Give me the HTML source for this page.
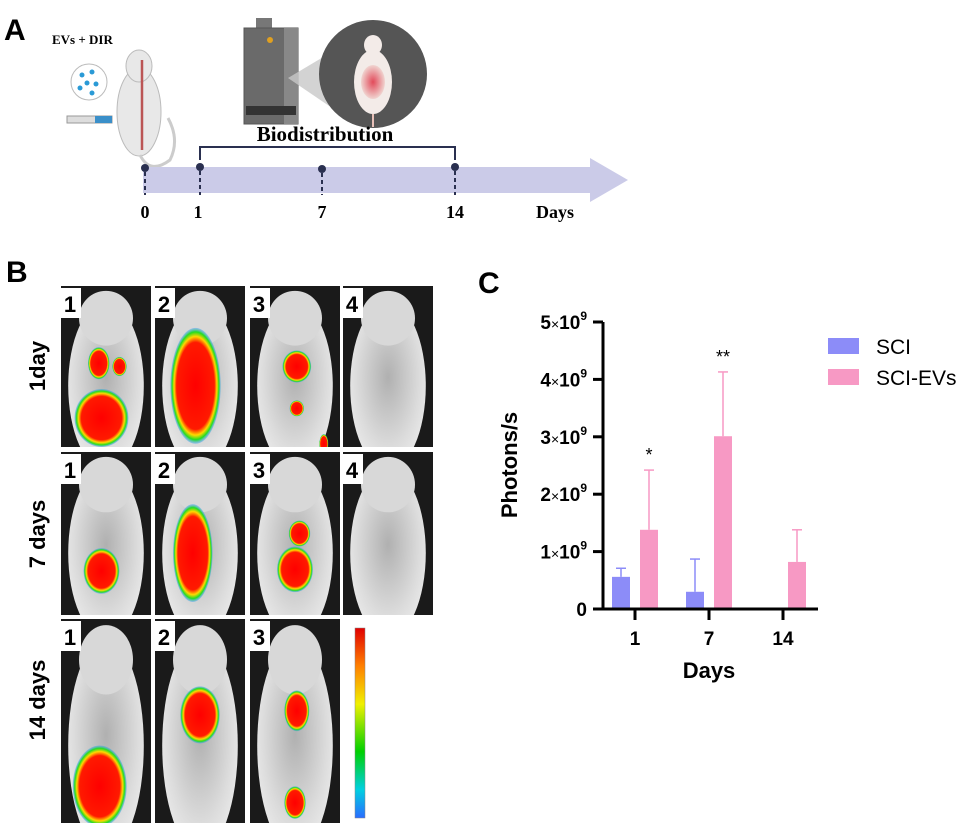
<!DOCTYPE html>
<html><head><meta charset="utf-8"><style>
body{margin:0;background:#fff;width:969px;height:823px;overflow:hidden;font-family:"Liberation Sans",sans-serif}
svg{display:block}
</style></head><body>
<svg width="969" height="823" viewBox="0 0 969 823">
<defs>
<radialGradient id="body" cx="50%" cy="45%" r="60%"><stop offset="0" stop-color="#b0b0b0"/><stop offset="0.7" stop-color="#dcdcdc"/><stop offset="1" stop-color="#ececec"/></radialGradient>
<radialGradient id="hot" cx="50%" cy="50%" r="50%"><stop offset="0" stop-color="#ff0000"/><stop offset="0.75" stop-color="#ff1a00"/><stop offset="0.85" stop-color="#ffd800"/><stop offset="0.93" stop-color="#22dd22"/><stop offset="1" stop-color="#3399ff" stop-opacity="0.4"/></radialGradient>
<radialGradient id="glow" cx="50%" cy="50%" r="50%"><stop offset="0" stop-color="#e24a5a"/><stop offset="1" stop-color="#f0d4d0"/></radialGradient>
<linearGradient id="cbar" x1="0" y1="1" x2="0" y2="0"><stop offset="0" stop-color="#2a6cff"/><stop offset="0.15" stop-color="#00d0e0"/><stop offset="0.35" stop-color="#00d000"/><stop offset="0.6" stop-color="#f0f000"/><stop offset="0.8" stop-color="#ff8000"/><stop offset="1" stop-color="#e00000"/></linearGradient>
</defs>

<!-- Panel A -->
<g>
<text x="4" y="40" font-size="30" font-weight="bold">A</text>
<text x="52" y="44" font-family="Liberation Serif" font-weight="bold" font-size="13">EVs + DIR</text>
<circle cx="89" cy="82" r="18" fill="#fff" stroke="#bbb"/>
<g fill="#2a9ad6"><circle cx="82" cy="75" r="2.5"/><circle cx="92" cy="72" r="2.5"/><circle cx="87" cy="83" r="2.5"/><circle cx="96" cy="84" r="2.5"/><circle cx="80" cy="88" r="2.5"/><circle cx="92" cy="93" r="2.5"/></g>
<rect x="67" y="116" width="45" height="7" fill="#ddd" stroke="#999"/>
<rect x="95" y="116" width="17" height="7" fill="#3a8fc9"/>
<g>
<ellipse cx="139" cy="112" rx="22" ry="44" fill="#e8e8e8" stroke="#bbb"/>
<ellipse cx="139" cy="66" rx="13" ry="16" fill="#e8e8e8" stroke="#bbb"/>
<path d="M140 155 Q150 175 170 160 Q180 140 168 118" fill="none" stroke="#ccc" stroke-width="3"/>
<line x1="142" y1="60" x2="142" y2="150" stroke="#b55" stroke-width="2.5"/>
</g>
<g>
<rect x="256" y="18" width="16" height="12" fill="#777"/>
<rect x="244" y="28" width="54" height="96" fill="#6a6a6a" stroke="#555"/>
<rect x="284" y="28" width="14" height="96" fill="#888"/>
<circle cx="270" cy="40" r="3" fill="#e0a020"/>
<rect x="246" y="106" width="50" height="9" fill="#333"/>
</g>
<polygon points="288,78 335,50 335,110" fill="#c8c8c8" opacity="0.8"/>
<circle cx="373" cy="74" r="54" fill="#555"/>
<ellipse cx="373" cy="82" rx="19" ry="32" fill="#f3ebe8"/>
<ellipse cx="373" cy="82" rx="12" ry="17" fill="url(#glow)"/>
<ellipse cx="373" cy="45" rx="9" ry="10" fill="#f3ebe8"/>
<line x1="373" y1="114" x2="373" y2="127" stroke="#e8c0b8" stroke-width="2"/>
<polygon points="143,167 590,167 590,158 628,180 590,202 590,193 143,193" fill="#cbcbe8"/>
<path d="M200 160 V147 H455 V160" fill="none" stroke="#2a3050" stroke-width="2"/>
<text x="325" y="141" text-anchor="middle" font-family="Liberation Serif" font-weight="bold" font-size="21">Biodistribution</text>
<g fill="#2a3050" stroke="#2a3050" stroke-width="2" stroke-dasharray="4,3">
<circle cx="145" cy="168" r="4" stroke="none"/><line x1="145" y1="172" x2="145" y2="195"/>
<circle cx="200" cy="167" r="4" stroke="none"/><line x1="200" y1="171" x2="200" y2="195"/>
<circle cx="322" cy="169" r="4" stroke="none"/><line x1="322" y1="173" x2="322" y2="195"/>
<circle cx="455" cy="167" r="4" stroke="none"/><line x1="455" y1="171" x2="455" y2="195"/>
</g>
<g font-family="Liberation Serif" font-weight="bold" font-size="18" text-anchor="middle">
<text x="145" y="218">0</text>
<text x="198" y="218">1</text>
<text x="322" y="218">7</text>
<text x="455" y="218">14</text>
<text x="555" y="218">Days</text>
</g>
</g>

<!-- Panel B -->
<g>
<text x="6" y="282" font-size="30" font-weight="bold">B</text>
<text transform="translate(45,366) rotate(-90)" text-anchor="middle" font-size="22" font-weight="bold">1day</text>
<text transform="translate(45,534) rotate(-90)" text-anchor="middle" font-size="22" font-weight="bold">7 days</text>
<text transform="translate(45,700) rotate(-90)" text-anchor="middle" font-size="22" font-weight="bold">14 days</text>
<g id="mice"></g>
<rect x="355" y="628" width="10" height="190" fill="url(#cbar)" stroke="#888" stroke-width="0.5"/>
</g>

<!-- Panel C -->
<g>
<text x="478" y="293" font-size="30" font-weight="bold">C</text>
<g id="chart"></g>
</g>
</svg>
<script>
const mice=[
 [0,0,'1',[[0.45,0.82,0.3,0.18],[0.42,0.48,0.12,0.1],[0.65,0.5,0.08,0.06]]],
 [0,1,'2',[[0.45,0.62,0.28,0.36]]],
 [0,2,'3',[[0.52,0.5,0.16,0.1],[0.52,0.76,0.08,0.05],[0.82,0.98,0.05,0.06]]],
 [0,3,'4',[]],
 [1,0,'1',[[0.45,0.73,0.2,0.14]]],
 [1,1,'2',[[0.42,0.62,0.22,0.3]]],
 [1,2,'3',[[0.55,0.5,0.12,0.08],[0.5,0.72,0.2,0.14]]],
 [1,3,'4',[]],
 [2,0,'1',[[0.43,0.82,0.3,0.2]]],
 [2,1,'2',[[0.5,0.47,0.22,0.14]]],
 [2,2,'3',[[0.52,0.45,0.14,0.1],[0.5,0.9,0.12,0.08]]]
];
const colX=[61,155,250,343], rowY=[286,452,619], rowH=[161,163,204], cw=90;
const mg=document.getElementById('mice');
const NS='http://www.w3.org/2000/svg';
const defs=document.querySelector('defs');
function mk(t,a){const e=document.createElementNS(NS,t);for(const k in a)e.setAttribute(k,a[k]);return e;}
mice.forEach((m,idx)=>{
 const x=colX[m[1]],y=rowY[m[0]],h=rowH[m[0]];
 const cp=mk('clipPath',{id:'cp'+idx});
 cp.appendChild(mk('rect',{x:x,y:y,width:cw,height:h}));
 defs.appendChild(cp);
 const g=mk('g',{'clip-path':'url(#cp'+idx+')'});
 
 
 g.appendChild(mk('rect',{x:x,y:y,width:cw,height:h,fill:'#1a1a1a'}));
 g.appendChild(mk('ellipse',{cx:x+cw/2,cy:y+h*0.62,rx:cw*0.42,ry:h*0.52,fill:'url(#body)'}));
 g.appendChild(mk('ellipse',{cx:x+cw/2,cy:y+h*0.2,rx:cw*0.3,ry:h*0.17,fill:'#d8d8d8'}));
 m[3].forEach(b=>{g.appendChild(mk('ellipse',{cx:x+cw*b[0],cy:y+h*b[1],rx:cw*b[2],ry:h*b[3],fill:'url(#hot)'}));});
 g.appendChild(mk('rect',{x:x-2,y:y+2,width:22,height:30,fill:'#fff'}));
 const t=mk('text',{x:x+9,y:y+26,'text-anchor':'middle','font-size':'22','font-weight':'bold'});
 t.textContent=m[2];
 
 
 g.appendChild(t);
 mg.appendChild(g);
});

const categories=['1','7','14'];
const sciValues=[0.56,0.3,0];
const sciErrors=[0.15,0.57,0];
const evsValues=[1.38,3.01,0.82];
const evsErrors=[1.04,1.12,0.56];
const sigLabels=['*','**',''];
const yTicks=[0,1,2,3,4,5];

const cg=document.getElementById('chart');
const x0=603,x1=818,yBase=609,yTop=322,yMax=5;
const yS=v=>yBase-(yBase-yTop)*v/yMax;
const catX=i=>635+i*74;
const bw=18;
cg.appendChild(mk('line',{x1:x0,y1:yTop,x2:x0,y2:yBase+1.5,stroke:'#000','stroke-width':3}));
cg.appendChild(mk('line',{x1:x0-1.5,y1:yBase,x2:x1,y2:yBase,stroke:'#000','stroke-width':3}));
yTicks.forEach((v,i)=>{
 const y=yS(v);
 cg.appendChild(mk('line',{x1:x0-10,y1:y,x2:x0,y2:y,stroke:'#000','stroke-width':3}));
 const t=mk('text',{x:x0-16,y:y+7,'text-anchor':'end','font-size':'19','font-weight':'bold'});
 
 
 if(v===0){t.textContent='0';}
 else{t.textContent=v;const m=mk('tspan',{'font-size':'14','font-weight':'normal'});m.textContent='×';t.appendChild(m);const n=mk('tspan',{});n.textContent='10';t.appendChild(n);const s=mk('tspan',{dy:-9,'font-size':'12'});s.textContent='9';t.appendChild(s);}
 cg.appendChild(t);
});
function bar(cx,v,e,col,name){
 if(v>0){
 const r=mk('rect',{x:cx-bw/2,y:yS(v),width:bw,height:yBase-yS(v)-1.5,fill:col});
 
 
 cg.appendChild(r);}
 if(e>0){
 const l=mk('line',{x1:cx,y1:yS(v),x2:cx,y2:yS(v+e),stroke:col,'stroke-width':1.5});
 
 
 cg.appendChild(l);
 cg.appendChild(mk('line',{x1:cx-5,y1:yS(v+e),x2:cx+5,y2:yS(v+e),stroke:col,'stroke-width':1.5}));}
}
categories.forEach((c,i)=>{
 const cx=catX(i);
 cg.appendChild(mk('line',{x1:cx,y1:yBase,x2:cx,y2:yBase+11,stroke:'#000','stroke-width':3}));
 const t=mk('text',{x:cx,y:yBase+36,'text-anchor':'middle','font-size':'19','font-weight':'bold'});
 t.textContent=c;
 
 
 cg.appendChild(t);
 bar(cx-14,sciValues[i],sciErrors[i],'#8c8cf8','bar-sci-day'+c);
 bar(cx+14,evsValues[i],evsErrors[i],'#f799c4','bar-sci-evs-day'+c);
 if(sigLabels[i]){
 const s=mk('text',{x:cx+14,y:yS(evsValues[i]+evsErrors[i])-9,'text-anchor':'middle','font-size':'18'});
 s.textContent=sigLabels[i];
 
 
 cg.appendChild(s);}
});
const xt=mk('text',{x:709,y:678,'text-anchor':'middle','font-size':'22','font-weight':'bold'});
xt.textContent='Days';


cg.appendChild(xt);
const yt=mk('text',{transform:'translate(517,465) rotate(-90)','text-anchor':'middle','font-size':'22','font-weight':'bold'});
yt.textContent='Photons/s';


cg.appendChild(yt);
[['SCI','#8c8cf8',338],['SCI-EVs','#f799c4',369]].forEach(l=>{
 const g=mk('g',{});
 
 
 g.appendChild(mk('rect',{x:828,y:l[2],width:31,height:16,fill:l[1]}));
 const t=mk('text',{x:876,y:l[2]+16,'font-size':'21'});
 t.textContent=l[0];
 g.appendChild(t);
 cg.appendChild(g);
});
</script>
</body></html>
